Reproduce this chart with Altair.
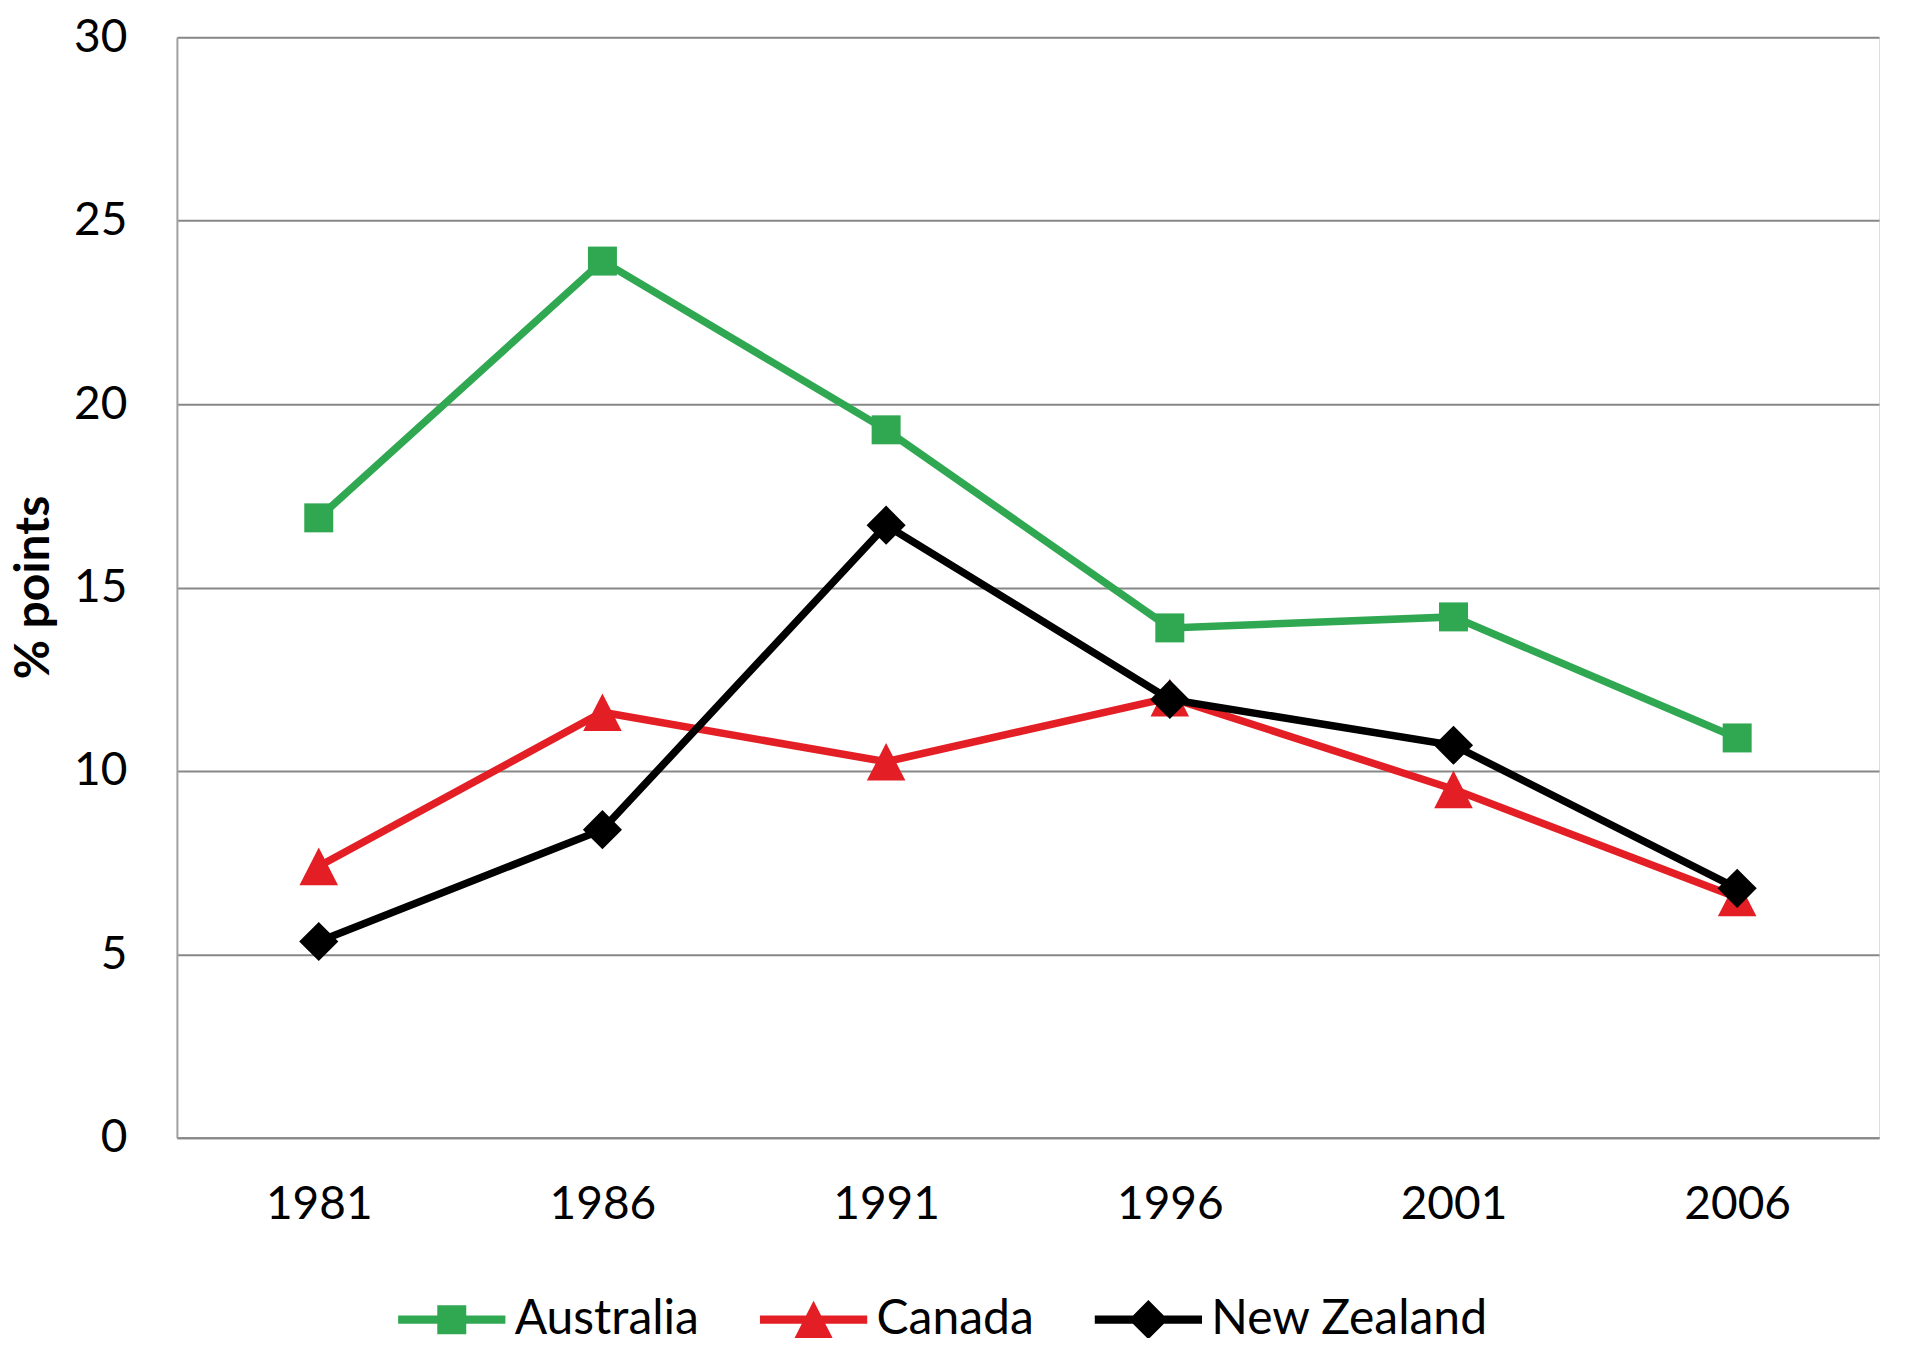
import altair as alt
import pandas as pd

years = ["1981", "1986", "1991", "1996", "2001", "2006"]
australia = [16.9, 23.9, 19.3, 13.9, 14.2, 10.9]
canada = [7.4, 11.6, 10.25, 12.0, 9.5, 6.55]
new_zealand = [5.35, 8.4, 16.7, 11.95, 10.7, 6.8]

series_names = ["Australia", "Canada", "New Zealand"]
series_values = [australia, canada, new_zealand]
series_colors = ["#30A852", "#E31E24", "#000000"]

marker_paths = [
    "M-1,-1H1V1H-1Z",
    "M0,-1.3L1.33,1.3H-1.33Z",
    "M0,-1.35L1.35,0L0,1.35L-1.35,0Z",
]
bar = "M-3.7,-0.28H3.7V0.28H-3.7Z "
legend_paths = [bar + p for p in marker_paths]

rows = []
for name, vals in zip(series_names, series_values):
    for y, v in zip(years, vals):
        rows.append({"Year": y, "Value": v, "Country": name})
df = pd.DataFrame(rows)

FONT = "Lato"

x_enc = alt.X(
    "Year:O",
    scale=alt.Scale(type="point", padding=0.5, domain=years),
    axis=alt.Axis(
        title=None, labelAngle=0, labelFontSize=46, labelFont=FONT, labelColor="#000000",
        labelPadding=45, ticks=False, grid=False, domainColor="#878787", domainWidth=2,
    ),
)
y_enc = alt.Y(
    "Value:Q",
    scale=alt.Scale(domain=[0, 30], nice=False),
    axis=alt.Axis(
        values=[0, 5, 10, 15, 20, 25, 30], labelFontSize=46, labelFont=FONT,
        labelColor="#000000", labelPadding=50, ticks=False,
        domainColor="#a0a0a0", domainWidth=2, gridColor="#878787", gridWidth=2,
        title="% points", titleFont=FONT, titleFontSize=48, titleFontWeight="bold",
        titleColor="#000000", titleAngle=-90, titleX=-142, titleY=550,
        titleAlign="center", titleBaseline="middle",
    ),
)

base = alt.Chart(df)
layers = []
for name, color, path in zip(series_names, series_colors, marker_paths):
    sub = base.transform_filter(alt.datum.Country == name)
    layers.append(
        sub.mark_line(strokeWidth=7.5, color=color).encode(x=x_enc, y=y_enc)
    )
    layers.append(
        sub.mark_point(filled=True, size=841, shape=path, color=color, opacity=1, strokeWidth=0)
        .encode(x=x_enc, y=y_enc)
    )

legend_opts = dict(
    title=None, orient="none", direction="horizontal", legendX=251, legendY=1259,
    labelFontSize=48, labelFont=FONT, labelColor="#000000", labelOffset=39, labelLimit=0,
    columnPadding=60, symbolSize=841, symbolStrokeWidth=0, padding=0,
)

legend_layer = base.transform_filter("false").mark_point(filled=True, size=841, opacity=1).encode(
    x=x_enc,
    y=y_enc,
    color=alt.Color(
        "Country:N",
        scale=alt.Scale(domain=series_names, range=series_colors),
        legend=alt.Legend(**legend_opts),
    ),
    shape=alt.Shape(
        "Country:N",
        scale=alt.Scale(domain=series_names, range=legend_paths),
        legend=alt.Legend(**legend_opts),
    ),
)
layers.append(legend_layer)

chart = alt.layer(*layers).properties(
    width=1703,
    height=1101,
    autosize=alt.AutoSizeParams(type="none"),
    padding={"left": 169, "top": 29, "right": 20, "bottom": 200},
).configure_view(stroke=None).configure(background="white")

chart.save("out.html", embed_options={"renderer": "svg", "actions": False})
